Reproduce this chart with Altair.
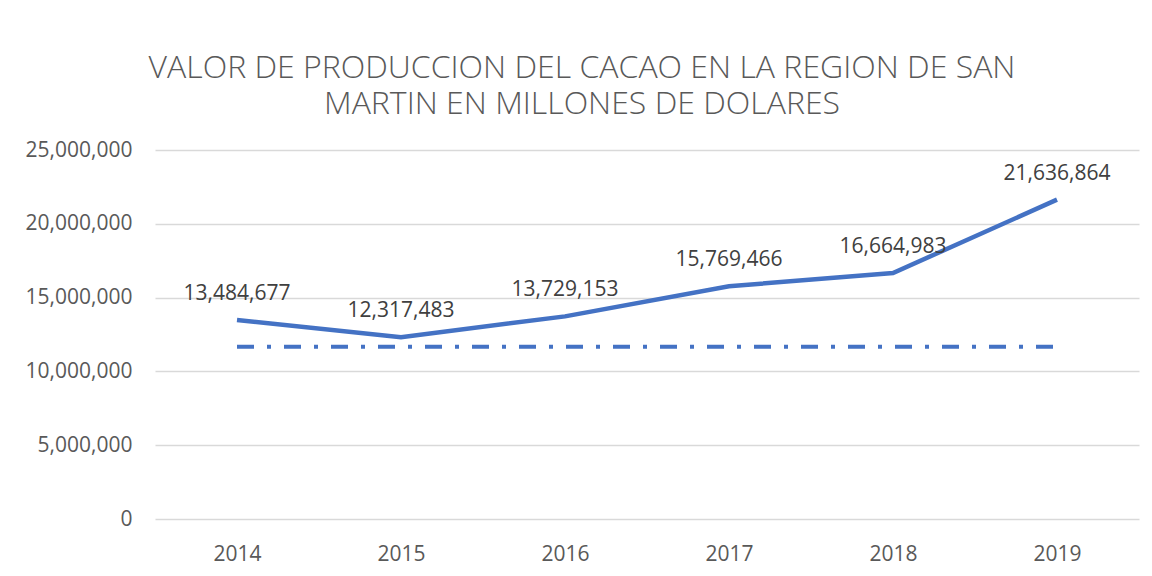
import altair as alt
import pandas as pd

years = ["2014", "2015", "2016", "2017", "2018", "2019"]
values = [13484677, 12317483, 13729153, 15769466, 16664983, 21636864]
reference = [11670000, 11670000, 11670000, 11670000, 11670000, 11670000]
y_ticks = [0, 5000000, 10000000, 15000000, 20000000, 25000000]
title_lines = ["VALOR DE PRODUCCION DEL CACAO EN LA REGION DE SAN",
               "MARTIN EN MILLONES DE DOLARES"]

df = pd.DataFrame({"year": years, "value": values, "ref": reference})

FONT = "Open Sans"
BLUE = "#4472C4"

x = alt.X("year:O", sort=years,
          scale=alt.Scale(type="point", padding=0.5),
          axis=alt.Axis(title=None, labelAngle=0, ticks=False, domain=False, grid=False,
                        labelPadding=24, labelFontSize=21, labelFont=FONT,
                        labelColor="#595959"))
y = alt.Y("value:Q", scale=alt.Scale(domain=[0, 25000000], nice=False),
          axis=alt.Axis(title=None, values=y_ticks, format=",d", ticks=False, domain=False,
                        gridColor="#d9d9d9", gridWidth=1.5, labelPadding=23,
                        labelFontSize=21, labelFont=FONT, labelColor="#595959"))

base = alt.Chart(df)

line = base.mark_line(color=BLUE, strokeWidth=4.5).encode(x=x, y=y)
ref = base.mark_line(color=BLUE, strokeWidth=4, strokeDash=[17, 13, 4, 13]).encode(
    x=x, y=alt.Y("ref:Q"))
labels = base.mark_text(dy=-26, fontSize=21, font=FONT, color="#404040").encode(
    x=x, y=alt.Y("value:Q"), text=alt.Text("value:Q", format=",d"))

chart = alt.layer(ref, line, labels).properties(
    width=984, height=369,
    padding={"left": 147, "top": 142, "right": 5, "bottom": 49},
    autosize=alt.AutoSizeParams(type="none"),
    background="white",
    title=alt.TitleParams(text=title_lines, fontSize=32, font=FONT, fontWeight=300,
                          color="#595959", anchor="middle", dx=-65, offset=18,
                          lineHeight=36),
).configure_view(stroke=None)

chart.save("out.html", embed_options={"renderer": "svg", "actions": False})
